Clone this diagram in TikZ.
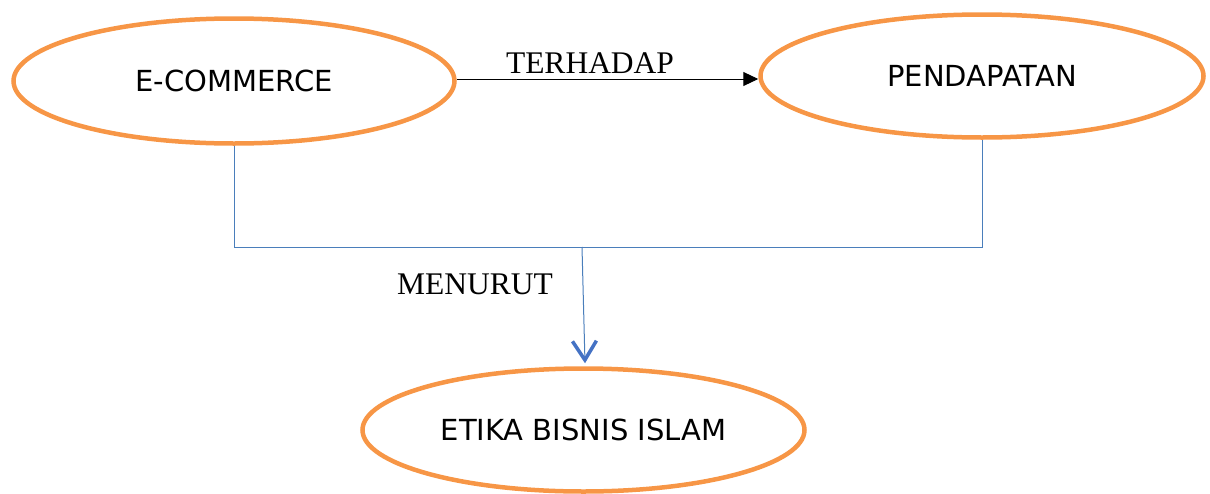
\documentclass[tikz,border=0pt]{standalone}
\usepackage{fontspec}
\setmainfont{Liberation Serif}
\newfontfamily\dv{DejaVu Sans}
\usetikzlibrary{shapes.geometric,arrows.meta}
\definecolor{ora}{HTML}{F79646}
\definecolor{blu}{HTML}{4A7EBB}
\definecolor{blutip}{HTML}{4472C4}
\tikzset{
  oval/.style={ellipse,draw=ora,line width=4.5pt,inner sep=0pt,
    font=\dv\fontsize{29}{35}\selectfont,text=black},
  lbl/.style={font=\fontsize{31.5}{36}\selectfont,anchor=base,inner sep=0pt},
  link/.style={draw=blu,line width=1pt},
  fwd/.style={draw=black,line width=1pt,-{Triangle[length=15pt,width=14pt]}},
}
\begin{document}
\begin{tikzpicture}[x=1pt,y=-1pt]
\useasboundingbox (0,0) rectangle (1210,493);
\node[oval,minimum width=441pt,minimum height=125pt] (ec) at (234,81) {E-COMMERCE};
\node[oval,minimum width=443pt,minimum height=123pt] (pd) at (982,76) {PENDAPATAN};
\node[oval,minimum width=442pt,minimum height=123pt] (eb) at (583.5,430) {ETIKA BISNIS ISLAM};
\coordinate (ay) at (0,79);
\draw[fwd] (ec.east |- ay) -- (pd.west |- ay);
\node[lbl] (terhadap) at (590,73) {TERHADAP};
\coordinate (hy) at (0,247);
\coordinate (junc) at (582,247);
\draw[link] (ec.south) -- (ec.south |- hy) -- (pd.south |- hy) -- (pd.south);
\draw[link,-{Straight Barb[length=19pt,width=24pt,line width=3.5pt,color=blutip]}] (junc) -- ([xshift=1.5pt,yshift=3pt]eb.north);
\node[lbl] (menurut) at (475,294) {MENURUT};
\end{tikzpicture}
\end{document}
